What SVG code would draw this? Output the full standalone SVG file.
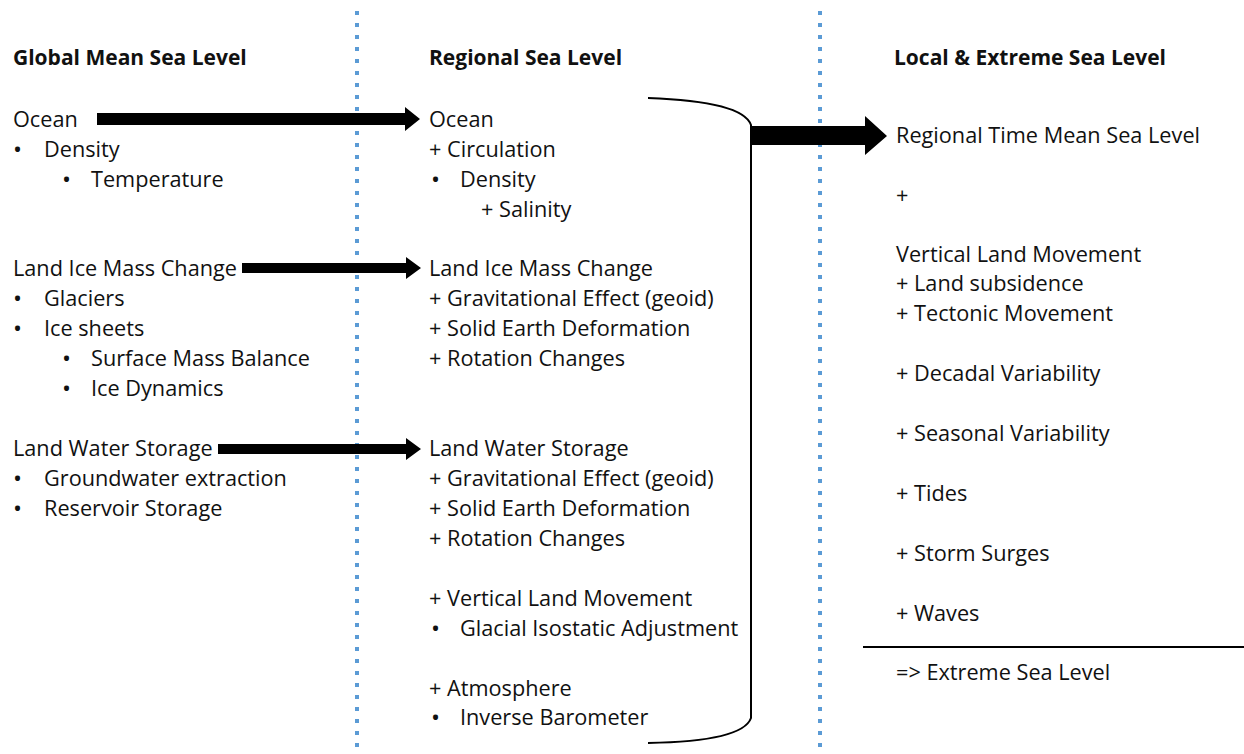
<svg xmlns="http://www.w3.org/2000/svg" width="1244" height="754" viewBox="0 0 1244 754">
<style>
text{font-family:"Open Sans","Noto Sans",sans-serif;font-size:21.7px;fill:#111}
.h{font-weight:bold;font-size:21px}
.b{font-size:24px}
.dot{stroke:#5B9BD5;stroke-width:4;stroke-dasharray:4 8}
.arr{fill:#000}
</style>
<rect width="1244" height="754" fill="#fff"/>
<g id="dividers">
<line class="dot" x1="357" y1="11" x2="357" y2="754"/>
<line class="dot" x1="820" y1="11" x2="820" y2="754"/>
</g>
<g id="global">
<text class="h" x="13" y="65">Global Mean Sea Level</text>
<text x="13" y="127">Ocean</text>
<text class="b" x="13" y="158">•</text><text x="44" y="157">Density</text>
<text class="b" x="62" y="188">•</text><text x="91" y="187">Temperature</text>
<text x="13" y="276">Land Ice Mass Change</text>
<text class="b" x="13" y="307">•</text><text x="44" y="306">Glaciers</text>
<text class="b" x="13" y="337">•</text><text x="44" y="336">Ice sheets</text>
<text class="b" x="62" y="367">•</text><text x="91" y="366">Surface Mass Balance</text>
<text class="b" x="62" y="397">•</text><text x="91" y="396">Ice Dynamics</text>
<text x="13" y="456">Land Water Storage</text>
<text class="b" x="13" y="487">•</text><text x="44" y="486">Groundwater extraction</text>
<text class="b" x="13" y="517">•</text><text x="44" y="516">Reservoir Storage</text>
</g>
<g id="regional">
<text class="h" x="429" y="65">Regional Sea Level</text>
<text x="429" y="127">Ocean</text>
<text x="429" y="157">+ Circulation</text>
<text class="b" x="431" y="188">•</text><text x="460" y="187">Density</text>
<text x="481" y="217">+ Salinity</text>
<text x="429" y="276">Land Ice Mass Change</text>
<text x="429" y="306">+ Gravitational Effect (geoid)</text>
<text x="429" y="336">+ Solid Earth Deformation</text>
<text x="429" y="366">+ Rotation Changes</text>
<text x="429" y="456">Land Water Storage</text>
<text x="429" y="486">+ Gravitational Effect (geoid)</text>
<text x="429" y="516">+ Solid Earth Deformation</text>
<text x="429" y="546">+ Rotation Changes</text>
<text x="429" y="606">+ Vertical Land Movement</text>
<text class="b" x="431" y="637">•</text><text x="460" y="636">Glacial Isostatic Adjustment</text>
<text x="429" y="696">+ Atmosphere</text>
<text class="b" x="431" y="726">•</text><text x="460" y="725">Inverse Barometer</text>
</g>
<g id="local">
<text class="h" x="894" y="65">Local &amp; Extreme Sea Level</text>
<text x="896" y="143">Regional Time Mean Sea Level</text>
<text x="896" y="203">+</text>
<text x="896" y="262">Vertical Land Movement</text>
<text x="896" y="291">+ Land subsidence</text>
<text x="896" y="321">+ Tectonic Movement</text>
<text x="896" y="381">+ Decadal Variability</text>
<text x="896" y="441">+ Seasonal Variability</text>
<text x="896" y="501">+ Tides</text>
<text x="896" y="561">+ Storm Surges</text>
<text x="896" y="621">+ Waves</text>
<text x="896" y="680">=&gt; Extreme Sea Level</text>
</g>
<g id="connectors">
<polygon class="arr" points="97,113 405,113 405,107 420,119 405,131 405,125 97,125"/>
<polygon class="arr" points="242,263 406,263 406,257 421,268 406,279 406,273 242,273"/>
<polygon class="arr" points="218,444 406,444 406,438 421,449 406,460 406,454 218,454"/>
<path d="M648,98 C705,100 745,108 751,125 L751,718 C745,735 705,742 648,743" fill="none" stroke="#000" stroke-width="2"/>
<polygon class="arr" points="752,126 865,126 865,116 887,136 865,155 865,145 752,145"/>
<line x1="863" y1="647" x2="1244" y2="647" stroke="#000" stroke-width="2"/>
</g>
</svg>
